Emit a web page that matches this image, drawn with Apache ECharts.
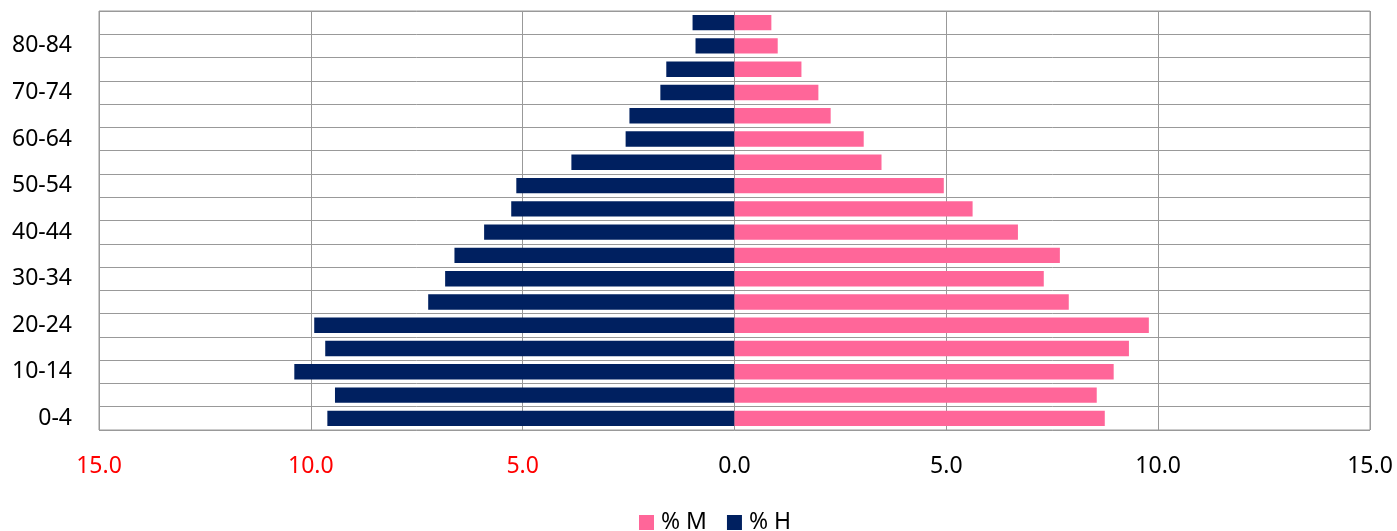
<!DOCTYPE html>
<html>
<head>
<meta charset="utf-8">
<script src="https://cdn.jsdelivr.net/npm/echarts@6/dist/echarts.min.js"></script>
<style>html,body{margin:0;padding:0;background:#fff}#c{width:1397px;height:531px}</style>
</head>
<body>
<div id="c"></div>
<script>
var categories = ['0-4','5-9','10-14','15-19','20-24','25-29','30-34','35-39','40-44','45-49','50-54','55-59','60-64','65-69','70-74','75-79','80-84','85+'];
var hommes = [9.61, 9.43, 10.39, 9.66, 9.92, 7.23, 6.83, 6.61, 5.91, 5.27, 5.15, 3.85, 2.57, 2.48, 1.75, 1.61, 0.92, 0.99];
var femmes = [8.74, 8.55, 8.95, 9.31, 9.78, 7.89, 7.30, 7.68, 6.69, 5.62, 4.94, 3.47, 3.05, 2.27, 1.98, 1.58, 1.02, 0.87];
var xTicks = [-15, -10, -5, 0, 5, 10, 15];

var chart = echarts.init(document.getElementById('c'), null, {renderer: 'canvas'});
var font = 'Noto Sans';
chart.setOption({
  animation: false,
  grid: {left: 99, right: 27, top: 11, bottom: 101, show: true, borderColor: '#999', borderWidth: 1},
  legend: {
    data: ['% M', '% H'],
    bottom: -8, left: 634,
    itemWidth: 15, itemHeight: 15, itemGap: 20,
    icon: 'rect',
    textStyle: {fontFamily: font, fontSize: 23, color: '#000', padding: [0, 0, 0, 2]}
  },
  xAxis: {
    type: 'value', min: xTicks[0], max: xTicks[xTicks.length - 1], interval: 5,
    axisLine: {show: false}, axisTick: {show: false},
    splitLine: {show: true, lineStyle: {color: '#999', width: 1}},
    axisLabel: {
      margin: 25,
      fontFamily: font, fontSize: 23, color: '#000',
      formatter: function (v) { return v < 0 ? '{r|' + Math.abs(v).toFixed(1) + '}' : Math.abs(v).toFixed(1); },
      rich: {r: {color: '#ff0000', fontFamily: font, fontSize: 23}}
    }
  },
  yAxis: {
    type: 'category', data: categories,
    axisLine: {show: false}, axisTick: {show: false},
    splitLine: {show: true, interval: 0, lineStyle: {color: '#999', width: 1}},
    axisLabel: {interval: 1, margin: 27, fontFamily: font, fontSize: 23, color: '#000'}
  },
  series: [
    {name: '% H', type: 'bar', stack: 'p', barWidth: '66%', itemStyle: {color: '#002060'},
     data: hommes.map(function (v) { return -v; })},
    {name: '% M', type: 'bar', stack: 'p', barWidth: '66%', itemStyle: {color: '#FF6699'},
     data: femmes}
  ]
});
</script>
</body>
</html>
